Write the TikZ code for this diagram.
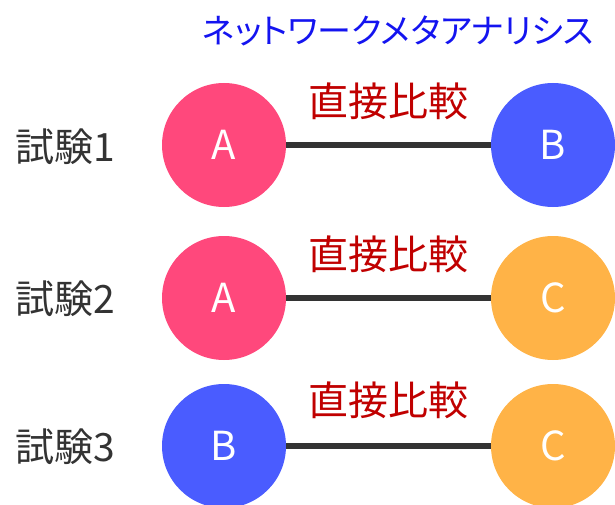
\documentclass[tikz,border=0pt]{standalone}
\usepackage{fontspec}
\setmainfont{Noto Sans CJK JP}
\definecolor{cpink}{HTML}{FF487C}
\definecolor{cblue}{HTML}{4A5CFF}
\definecolor{corange}{HTML}{FFB347}
\definecolor{ctitle}{HTML}{1414F0}
\definecolor{cred}{HTML}{C00000}
\definecolor{cline}{HTML}{333333}
\definecolor{clabel}{HTML}{333333}
\begin{document}
\begin{tikzpicture}[x=1pt,y=-1pt,
  arm/.style={circle, minimum size=124pt, inner sep=0pt, text=white, font=\fontsize{40}{40}\selectfont},
  link/.style={line width=6pt, cline},
  cmp/.style={text=cred, font=\fontsize{40}{40}\selectfont, inner sep=0pt},
  trial/.style={text=clabel, font=\fontsize{39}{39}\selectfont, inner sep=0pt, anchor=west}]
\useasboundingbox (0,0) rectangle (615,505);
\clip (0,0) rectangle (615,505);
\node[text=ctitle, font=\fontsize{34}{34}\selectfont\addfontfeature{RawFeature=+palt}, inner sep=0pt] (title) at (398,31) {ネットワークメタアナリシス};
% row 1
\node[arm, fill=cpink] (a1) at (224,145) {A};
\node[arm, fill=cblue] (b1) at (553,145) {B};
\draw[link] (a1) -- (b1);
\node[cmp] (c1) at (388,101) {直接比較};
\node[trial] (t1) at (15,147) {試験1};
% row 2
\node[arm, fill=cpink] (a2) at (224,298) {A};
\node[arm, fill=corange] (b2) at (553,298) {C};
\draw[link] (a2) -- (b2);
\node[cmp] (c2) at (388,254) {直接比較};
\node[trial] (t2) at (15,299) {試験2};
% row 3
\node[arm, fill=cblue] (a3) at (224,446) {B};
\node[arm, fill=corange] (b3) at (553,446) {C};
\draw[link] (a3) -- (b3);
\node[cmp] (c3) at (388,400) {直接比較};
\node[trial] (t3) at (15,447) {試験3};
\end{tikzpicture}
\end{document}
